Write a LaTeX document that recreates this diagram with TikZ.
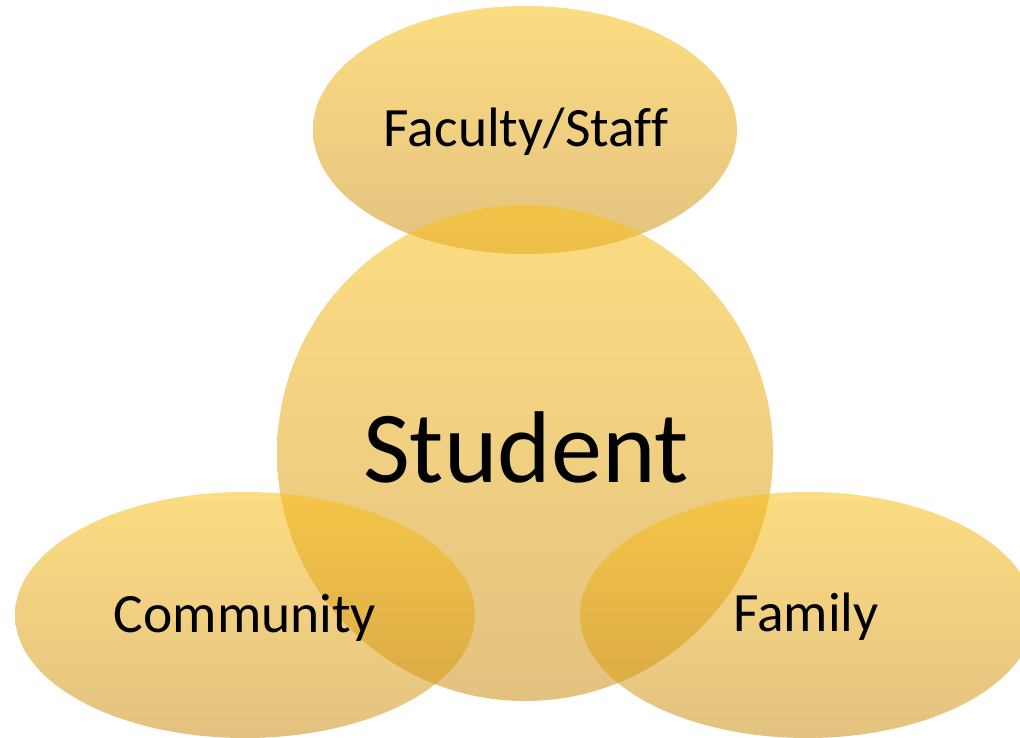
\documentclass[tikz,border=0pt]{standalone}
\usepackage{fontspec}
\setmainfont{Carlito}[Ligatures=NoCommon]
\definecolor{gtop}{RGB}{250,192,26}
\definecolor{gbot}{RGB}{204,144,24}
\tikzset{
  blob/.style={top color=gtop, bottom color=gbot, fill opacity=0.55, draw=none},
  lbl/.style={anchor=base, inner sep=0pt, text=black, font=\fontsize{55.5}{60}\selectfont},
  biglbl/.style={anchor=base, inner sep=0pt, text=black, font=\fontsize{102}{110}\selectfont}
}
\begin{document}
\begin{tikzpicture}[x=1pt,y=-1pt]
\useasboundingbox (0,0) rectangle (1020,738);
\begin{scope}
\clip (0,0) rectangle (1020,738);
\shade[blob] (525,130) ellipse [x radius=212, y radius=124];
\shade[blob] (525,453) circle [radius=248];
\shade[blob] (245,615) ellipse [x radius=230, y radius=123];
\shade[blob] (807,615) ellipse [x radius=227, y radius=123];
\end{scope}
\node[lbl] (fac) at (526,147) {Faculty/Staff};
\node[biglbl] (stu) at (526,482) {Student};
\node[lbl] (com) at (245,632) {Community};
\node[lbl] (fam) at (806,631) {Family};
\end{tikzpicture}
\end{document}
